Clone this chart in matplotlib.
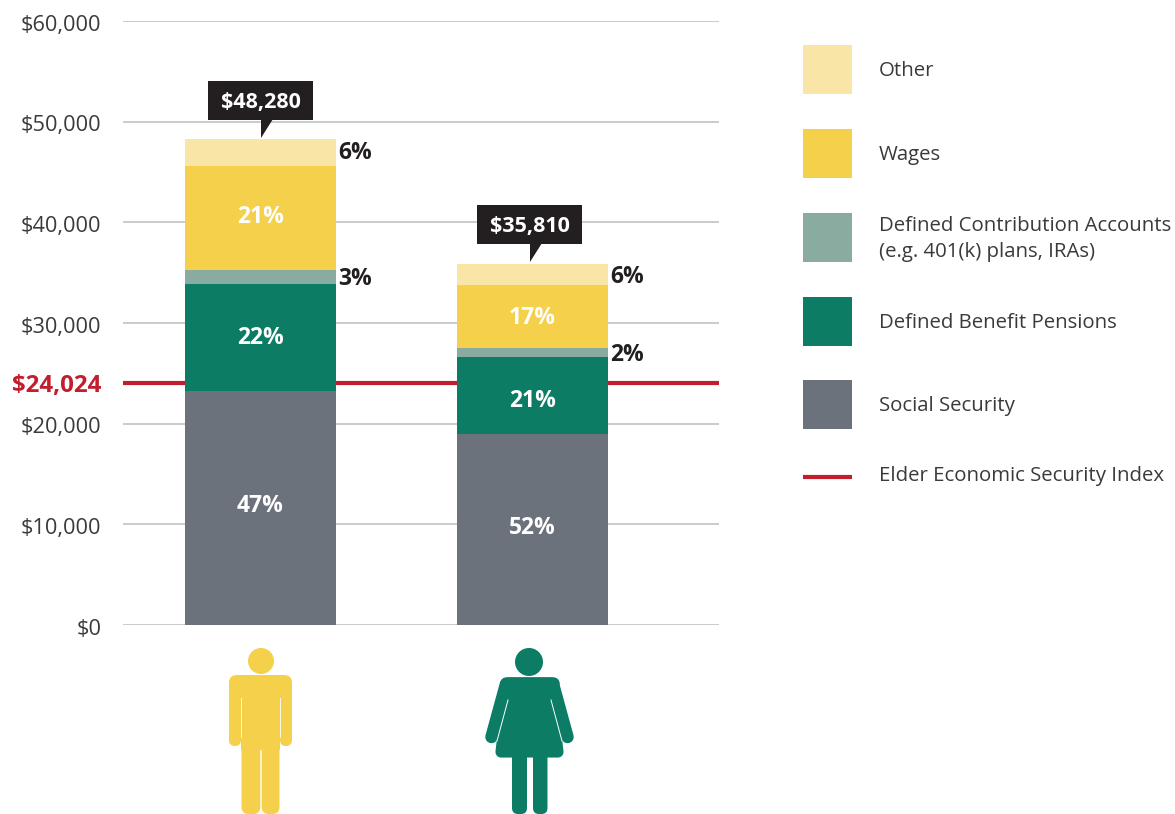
import matplotlib
matplotlib.use("Agg")
import matplotlib.pyplot as plt
from matplotlib.patches import Rectangle, FancyBboxPatch, Polygon, Circle
from matplotlib.transforms import Affine2D, ScaledTranslation

W, H = 1175, 814
plt.rcParams['font.family'] = ['Open Sans', 'DejaVu Sans']

groups = ["Men", "Women"]
totals = [48280, 35810]
total_labels = ["$48,280", "$35,810"]
sources = ["Social Security", "Defined Benefit Pensions", "Defined Contribution Accounts", "Wages", "Other"]
legend_labels = ["Other", "Wages", "Defined Contribution Accounts\n(e.g. 401(k) plans, IRAs)",
                 "Defined Benefit Pensions", "Social Security"]
men_values = [23245, 10630, 1390, 10330, 2685]
women_values = [18974, 7650, 890, 6260, 2046]
men_pct = ["47%", "22%", "3%", "21%", "6%"]
women_pct = ["52%", "21%", "2%", "17%", "6%"]
index_value = 24024
index_label = "$24,024"
index_name = "Elder Economic Security Index"
yticks = [0, 10000, 20000, 30000, 40000, 50000, 60000]
ytick_labels = ["$0", "$10,000", "$20,000", "$30,000", "$40,000", "$50,000", "$60,000"]

c_other, c_wage, c_dc, c_db, c_ss = "#F9E5A6", "#F5D04A", "#8AABA0", "#0C7C65", "#6B727B"
colors = [c_ss, c_db, c_dc, c_wage, c_other]
RED, BLACK, GRID, TXT = "#C21E2E", "#231F20", "#BCBDC0", "#3A3A3C"

# small pixel nudges for the percentage labels (style only)
men_nudge = [5, 2, 1, 4, 2]
women_nudge = [4, -3, 1, 2, 1]
box_shift = [0, -3]
box_raise = [0, 2]

fig = plt.figure(figsize=(W/100, H/100), dpi=100, facecolor="white")

ov = fig.add_axes([0, 0, 1, 1], zorder=1)
ov.set_xlim(0, W); ov.set_ylim(H, 0); ov.axis("off")

ax = fig.add_axes([123/W, (H-625)/H, (719-123)/W, 604/H], zorder=2)
ax.patch.set_alpha(0)
ax.set_xlim(-0.5055, 1.6857)
ax.set_ylim(0, 60000)
for s in ax.spines.values():
    s.set_visible(False)
ax.set_xticks([])
ax.set_yticks(yticks)
ax.set_yticklabels(ytick_labels, fontsize=15.7, color=TXT)
ax.tick_params(axis="y", length=0, pad=15.5)
down = ScaledTranslation(0, -0.018, fig.dpi_scale_trans)
for t in ax.get_yticklabels():
    t.set_transform(t.get_transform() + down)
ax.grid(axis="y", color=GRID, lw=1.1, zorder=0)
ax.set_axisbelow(True)
ax.axhline(index_value, color=RED, lw=3, zorder=1)

bar_w = 0.555
for i, (vals, pcts, nudge) in enumerate(zip([men_values, women_values], [men_pct, women_pct], [men_nudge, women_nudge])):
    bottom = 0
    for j, (v, p, c) in enumerate(zip(vals, pcts, colors)):
        ax.bar(i, v, bottom=bottom, width=bar_w, color=c, lw=0, zorder=2)
        if v > 5000:
            ax.annotate(p, (i, bottom + v/2), xytext=(0, nudge[j]), textcoords="offset pixels",
                        ha="center", va="center_baseline", color="white",
                        fontsize=16.5, fontweight="bold", zorder=4)
        else:
            ax.annotate(p, (i + bar_w/2, bottom + v/2), xytext=(2.5, nudge[j]),
                        textcoords="offset pixels", ha="left", va="center_baseline",
                        color=BLACK, fontsize=16.5, fontweight="bold", zorder=4)
        bottom += v
    # callout: box and pointer placed relative to the bar top, in pixels
    anchor = Affine2D().translate(*ax.transData.transform((i, totals[i])))
    s = box_shift[i]
    r = box_raise[i]
    ax.add_patch(Rectangle((s - 52.5, 19 + r), 105, 39, fc=BLACK, ec="none", zorder=5, transform=anchor))
    ax.add_patch(Polygon([(s + 0.5, 1 + r), (s + 0.5, 20 + r), (s + 12.5, 20 + r)], closed=True, fc=BLACK,
                         ec="none", zorder=5, transform=anchor))
    ax.annotate(total_labels[i], (i, totals[i]), xytext=(s, 39 + r), textcoords="offset pixels",
                ha="center", va="center_baseline", color="white", fontsize=15.5, fontweight="bold", zorder=6)

ax.annotate(index_label, (0, index_value), xycoords=("axes fraction", "data"), xytext=(-22, 0),
            textcoords="offset pixels", ha="right", va="center_baseline", color=RED,
            fontsize=17.4, fontweight="bold")

# legend
ys = [45, 129, 213, 297, 380]
for y, lab, c in zip(ys, legend_labels, colors[::-1]):
    ov.add_patch(Rectangle((803, y), 49, 49, fc=c, ec="none"))
    ov.text(879, y + 26 if "\n" not in lab else y + 26, lab, ha="left", va="center",
            fontsize=14.65, color=TXT, linespacing=1.38)
ov.plot([803, 852], [477, 477], color=RED, lw=3, solid_capstyle="butt")
ov.text(879, 476.5, index_name, ha="left", va="center", fontsize=14.65, color=TXT)

# pictograms
def rr(x0, y0, x1, y1, r, c):
    ov.add_patch(FancyBboxPatch((x0 + r, y0 + r), x1 - x0 - 2*r, y1 - y0 - 2*r,
                                boxstyle=f"round,pad={r},rounding_size={r}", fc=c, ec="none"))

m = c_wage
ov.add_patch(Circle((261, 661), 13, fc=m, ec="none"))
rr(229, 675, 292, 705, 8, m)
rr(229, 680, 241, 746, 6, m)
rr(280, 680, 292, 746, 6, m)
ov.add_patch(Rectangle((241, 680), 39, 70, fc=m, ec="none"))
rr(241.5, 730, 260.3, 814, 7, m)
rr(261.7, 730, 279.5, 814, 7, m)
ov.plot([241.3, 241.3], [698, 737], color="white", lw=0.6)
ov.plot([279.8, 279.8], [698, 737], color="white", lw=0.6)

g = c_db
ov.add_patch(Circle((529, 662), 14, fc=g, ec="none"))
ov.add_patch(Polygon([(509, 683), (550, 683), (558, 752), (501, 752)], closed=True,
                     fc=g, ec=g, lw=8, joinstyle="round"))
ov.plot([506, 553], [683, 683], color=g, lw=9, solid_capstyle="round")
ov.plot([506, 491.5], [684, 737], color=g, lw=9, solid_capstyle="round")
ov.plot([553, 567.5], [684, 737], color=g, lw=9, solid_capstyle="round")
ov.plot([508, 497], [700, 741], color="white", lw=0.7)
ov.plot([551, 562], [700, 741], color="white", lw=0.7)
rr(512, 750, 527, 814, 6, g)
rr(533, 750, 547.5, 814, 6, g)

fig.savefig("out.png", dpi=100, facecolor="white")
